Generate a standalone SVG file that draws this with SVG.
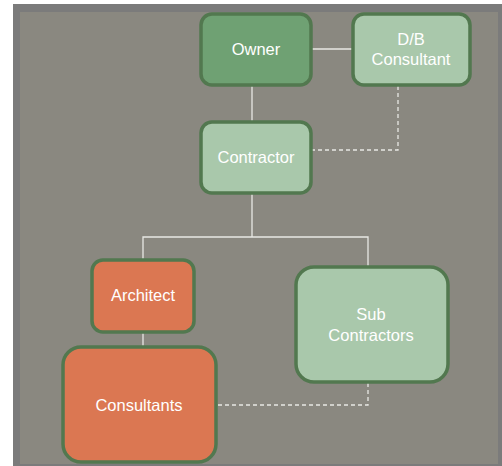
<svg xmlns="http://www.w3.org/2000/svg" width="502" height="466" viewBox="0 0 502 466">
<style>
.n rect{stroke:#52784f;stroke-width:3.5}
.dk{fill:#6fa173}
.lt{fill:#a9c8ab}
.or{fill:#db7752}
text{font-family:"Liberation Sans",Arial,sans-serif;font-size:16.5px;fill:#ffffff;text-anchor:middle}
.c line,.c path{stroke:#e8e8e4;stroke-width:1.3;fill:none}
.c .d{stroke-dasharray:4 3}
</style>
<rect x="0" y="0" width="502" height="466" fill="#ffffff"/>
<rect x="13" y="4" width="489" height="462" fill="#7b7b7b"/>
<rect x="20" y="12" width="478" height="452" fill="#8a8880"/>
<g class="c" id="connectors">
<line x1="312" y1="49" x2="352" y2="49"/>
<line x1="252" y1="86" x2="252" y2="121"/>
<path class="d" d="M398 86 V150 H312"/>
<path d="M252 194 V237 M143 259 V237 H368 V266"/>
<line x1="143" y1="333" x2="143" y2="346"/>
<path class="d" d="M368 383 V405 H217"/>
</g>
<g class="n" id="owner"><rect class="dk" x="201" y="14" width="110" height="71" rx="11"/><text x="256" y="55">Owner</text></g>
<g class="n" id="db"><rect class="lt" x="353" y="14" width="117" height="71" rx="11"/><text x="411" y="45">D/B</text><text x="411" y="65">Consultant</text></g>
<g class="n" id="contractor"><rect class="lt" x="201" y="122" width="110" height="71" rx="11"/><text x="256" y="163">Contractor</text></g>
<g class="n" id="architect"><rect class="or" x="92" y="260" width="102" height="72" rx="11"/><text x="143" y="301">Architect</text></g>
<g class="n" id="consultants"><rect class="or" x="63" y="347" width="153" height="115" rx="18"/><text x="139" y="411">Consultants</text></g>
<g class="n" id="sub"><rect class="lt" x="296" y="267" width="152" height="115" rx="18"/><text x="371" y="320">Sub</text><text x="371" y="341">Contractors</text></g>
</svg>
